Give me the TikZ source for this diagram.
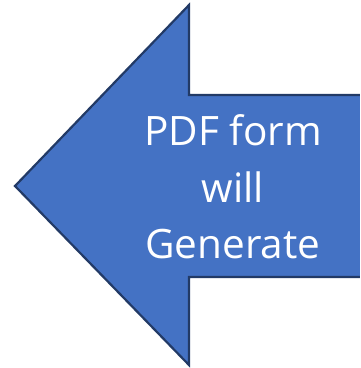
\documentclass[tikz,border=0pt]{standalone}
\usepackage{fontspec}
\setmainfont{Open Sans}
\definecolor{arrowfill}{HTML}{4472C4}
\definecolor{arrowline}{HTML}{223A66}
\tikzset{
  arrowbody/.style={fill=arrowfill, draw=arrowline, line width=2.2pt, line join=miter},
  arrowtext/.style={text=white, align=center, font=\fontsize{40.5}{56.5}\selectfont}
}
\begin{document}
\begin{tikzpicture}[x = 1pt, y = -1pt]
	\useasboundingbox (0,0) rectangle (360,368);
	\begin{scope}
		\clip (0,0) rectangle (360,368);
		\draw[arrowbody] (15,186) -- (189,5) -- (189,95) -- (380,95) -- (380,277) -- (189,277) -- (189,365) -- cycle; %arrow
	\end{scope}
	\node[arrowtext] (label) at (233,187) {PDF form\\will\\Generate};
\end{tikzpicture}
\end{document}
